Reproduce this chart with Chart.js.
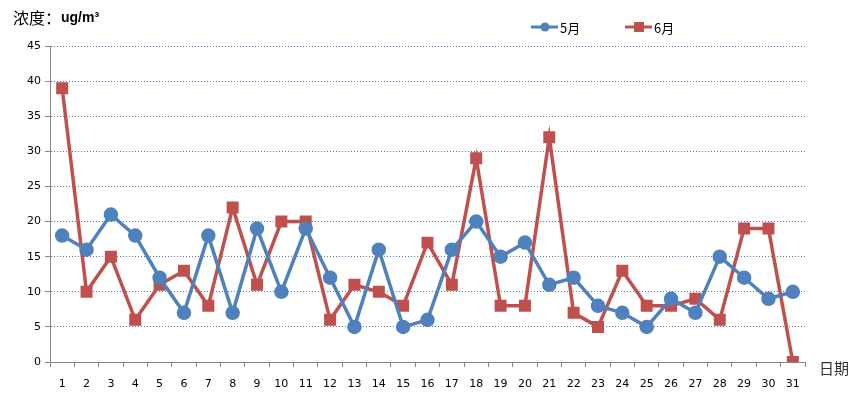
<!DOCTYPE html>
<html><head><meta charset="utf-8">
<script src="https://cdn.jsdelivr.net/npm/chart.js@4/dist/chart.umd.min.js"></script>
<style>html,body{margin:0;padding:0;background:#fff}#wrap{width:862px;height:397px}</style>
</head><body><div id="wrap"><canvas id="c" width="862" height="397"></canvas></div>
<script>
const days = Array.from({length:31},(_,i)=>String(i+1));
const may = [18,16,21,18,12,7,18,7,19,10,19,12,5,16,5,6,16,20,15,17,11,12,8,7,5,9,7,15,12,9,10];
const june = [39,10,15,6,11,13,8,22,11,20,20,6,11,10,8,17,11,29,8,8,32,7,5,13,8,8,9,6,19,19,0];
const yTicks = [0,5,10,15,20,25,30,35,40,45];
const seriesNames = ['5月','6月'];
const BLUE='#4F81BD', RED='#C0504D';

const textPlugin = {
  id:'texts',
  afterDraw(chart){
    const ctx=chart.ctx;
    ctx.save();
    ctx.textBaseline='middle';
    ctx.fillStyle='#000';
    ctx.font='16px "Noto Sans CJK SC"';
    ctx.fillText('浓度：',13,18);
    const w=ctx.measureText('浓度：').width;
    ctx.font='bold 14px "Liberation Sans"';
    ctx.fillText('ug/m³',13+w,18);
    ctx.font='15px "Noto Sans CJK SC"';
    ctx.fillStyle='#333';
    ctx.fillText('日期',819,368);
    // legend
    const items=[{x:531,c:BLUE,t:seriesNames[0],sq:false},{x:625,c:RED,t:seriesNames[1],sq:true}];
    items.forEach(it=>{
      ctx.strokeStyle=it.c; ctx.lineWidth=3;
      ctx.beginPath(); ctx.moveTo(it.x,27); ctx.lineTo(it.x+27,27); ctx.stroke();
      ctx.fillStyle=it.c;
      if(it.sq){ctx.fillRect(it.x+9,22,10,10);} else {ctx.beginPath();ctx.arc(it.x+14,27,4.5,0,Math.PI*2);ctx.fill();}
      ctx.fillStyle='#000';
      ctx.font='13px "Noto Sans CJK SC"';
      ctx.fillText(it.t,it.x+29,28);
    });
    ctx.restore();
  }
};

new Chart(document.getElementById('c'),{
  type:'line',
  data:{labels:days,datasets:[
    {label:seriesNames[0],data:may,borderColor:BLUE,backgroundColor:BLUE,borderWidth:3.5,pointStyle:'circle',pointRadius:5.5,pointHoverRadius:5.5,tension:0},
    {label:seriesNames[1],data:june,borderColor:RED,backgroundColor:RED,borderWidth:3.5,pointStyle:'rect',pointRadius:6,pointHoverRadius:6,tension:0}
  ]},
  options:{
    responsive:false,animation:false,
    layout:{padding:{top:46,right:57,left:0,bottom:0}},
    plugins:{legend:{display:false},tooltip:{enabled:false},title:{display:false}},
    scales:{
      x:{
        offset:true,
        grid:{offset:true,drawOnChartArea:false,drawTicks:true,tickLength:5,color:'#868686',lineWidth:1},
        border:{display:true,color:'#868686',width:1},
        ticks:{color:'#000',font:{family:'"DejaVu Sans"',size:11},padding:11,maxRotation:0,autoSkip:false},
        afterFit(s){s.height=35;}
      },
      y:{
        min:0,max:45,
        afterBuildTicks(s){s.ticks=yTicks.map(v=>({value:v}));},
        grid:{color:ctx=>ctx.tick&&ctx.tick.value===0?'rgba(0,0,0,0)':'#4A7EBB',lineWidth:1,drawTicks:true,tickLength:5,tickColor:'#868686',tickBorderDash:[]},
        border:{display:true,color:'#868686',width:1,dash:[1,2]},
        ticks:{color:'#000',font:{family:'"DejaVu Sans"',size:11},padding:4},
        afterFit(s){s.width=50;}
      }
    }
  },
  plugins:[textPlugin]
});
</script></body></html>
